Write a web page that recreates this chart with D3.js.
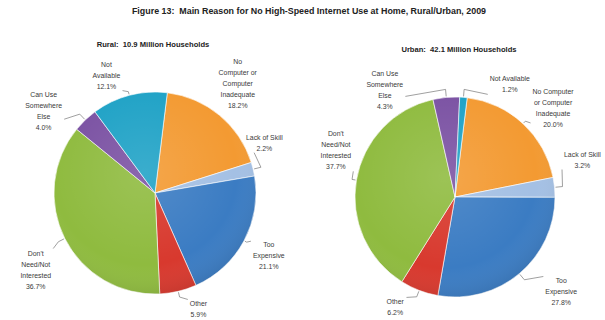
<!DOCTYPE html>
<html><head><meta charset="utf-8">
<script src="https://cdn.jsdelivr.net/npm/d3@7"></script>
<style>
html,body{margin:0;padding:0;background:#fff;}
svg{display:block;}
text{white-space:pre;}
</style></head>
<body>
<svg id="chart" width="605" height="320"></svg>
<script>
const title = "Figure 13:  Main Reason for No High-Speed Internet Use at Home, Rural/Urban, 2009";
const categories = ["No Computer or Computer Inadequate","Lack of Skill","Too Expensive","Other","Don't Need/Not Interested","Can Use Somewhere Else","Not Available"];
const ruralTitle = "Rural:  10.9 Million Households";
const urbanTitle = "Urban:  42.1 Million Households";
const ruralValues = [18.2, 2.2, 21.1, 5.9, 36.7, 4.0, 12.1];
const urbanValues = [20.0, 3.2, 27.8, 6.2, 37.7, 4.3, 1.2];
const ruralLabelLines = [["No","Computer or","Computer","Inadequate"],["Lack of Skill"],["Too","Expensive"],["Other"],["Don't","Need/Not","Interested"],["Can Use","Somewhere","Else"],["Not","Available"]];
const urbanLabelLines = [["No Computer","or Computer","Inadequate"],["Lack of Skill"],["Too","Expensive"],["Other"],["Don't","Need/Not","Interested"],["Can Use","Somewhere","Else"],["Not Available"]];
const colors = ["#f39a32","#a4c0e4","#3b7cc3","#d8392e","#8fbb3f","#7b52a3","#1fa2c6"];

// layout (not data)
const ruralNudge = [[1,-11],[-15,-20],[1,2],[14,-8],[-5,19],[-23,11],[-16,6]];
const urbanNudge = [[11,5],[0,-25],[24,-3],[-14,-9],[7,-25],[-59,21],[44,15]];

const svg = d3.select("#chart");
const defs = svg.append("defs");
const grad = defs.append("radialGradient").attr("id","shade").attr("cx","45%").attr("cy","40%").attr("r","65%");
grad.append("stop").attr("offset","0%").attr("stop-color","#fff").attr("stop-opacity",0.12);
grad.append("stop").attr("offset","70%").attr("stop-color","#fff").attr("stop-opacity",0);
grad.append("stop").attr("offset","100%").attr("stop-color","#000").attr("stop-opacity",0.12);

svg.append("text").attr("x",309).attr("y",14).attr("text-anchor","middle")
  .attr("font-family","Liberation Sans, Arial, sans-serif").attr("font-weight","bold")
  .attr("font-size",8.9).attr("fill","#222").text(title);

const color = d3.scaleOrdinal().domain(categories).range(colors);
const startA = 7*Math.PI/180;
const pie = d3.pie().sort(null).value(d=>d.v).startAngle(startA).endAngle(startA+2*Math.PI);

function drawPie(cx, cy, r, values, lines, nudge, subTitle, tx, ty){
  svg.append("text").attr("x",tx).attr("y",ty).attr("text-anchor","middle")
    .attr("font-family","Liberation Sans, Arial, sans-serif").attr("font-weight","bold")
    .attr("font-size",7.6).attr("fill","#222").text(subTitle);
  const data = categories.map((c,i)=>({c, v:values[i], lines:lines[i], nudge:nudge[i]}));
  const arcs = pie(data);
  const arc = d3.arc().innerRadius(0).outerRadius(r);
  const g = svg.append("g").attr("transform",`translate(${cx},${cy})`);
  g.selectAll("path.slice").data(arcs).join("path").attr("class","slice")
    .attr("d",arc).attr("fill",d=>color(d.data.c)).attr("stroke","#fff").attr("stroke-width",0.6);
  g.append("circle").attr("r",r).attr("fill","url(#shade)");
  const labR = 128;
  arcs.forEach(d=>{
    const a = (d.startAngle+d.endAngle)/2;
    const lx = labR*Math.sin(a) + d.data.nudge[0];
    const ly = -labR*Math.cos(a) + d.data.nudge[1];
    const allLines = d.data.lines.concat([d.data.v.toFixed(1)+"%"]);
    const lh = 11;
    const t = g.append("text").attr("text-anchor","middle")
      .attr("font-family","Liberation Sans, Arial, sans-serif").attr("font-size",6.9).attr("fill","#3a3a3a");
    allLines.forEach((s,k)=>{
      t.append("tspan").attr("x",lx).attr("y",ly - (allLines.length-1)*lh/2 + k*lh + 2.4).text(s);
    });
    const bb = t.node().getBBox();
    const ex = (r+1)*Math.sin(a), ey = -(r+1)*Math.cos(a);
    const px = Math.max(bb.x-2, Math.min(bb.x+bb.width+2, ex));
    const py = Math.max(bb.y-1, Math.min(bb.y+bb.height+1, ey));
    const dist = Math.hypot(px-ex, py-ey);
    if (dist > 6){
      const mx = (r+Math.min(8,dist*0.5))*Math.sin(a), my = -(r+Math.min(8,dist*0.5))*Math.cos(a);
      g.append("path").attr("d",`M${ex},${ey}L${mx},${my}L${px},${py}`)
        .attr("fill","none").attr("stroke","#777").attr("stroke-width",0.7);
    }
  });
}
drawPie(155,193,101,ruralValues,ruralLabelLines,ruralNudge,ruralTitle,153,47);
drawPie(455,197,100,urbanValues,urbanLabelLines,urbanNudge,urbanTitle,459,52);
</script>
</body></html>
